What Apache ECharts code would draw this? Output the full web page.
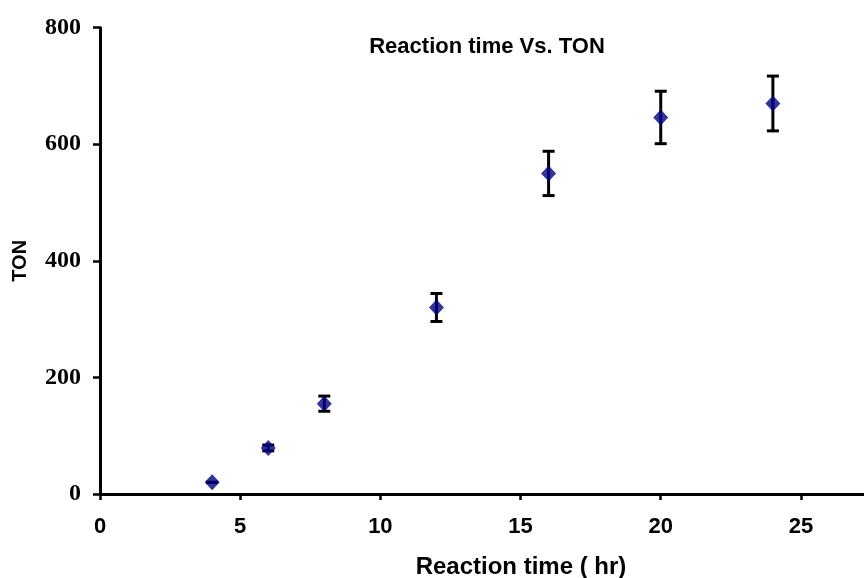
<!DOCTYPE html>
<html>
<head>
<meta charset="utf-8">
<script src="https://cdn.jsdelivr.net/npm/echarts@6/dist/echarts.min.js"></script>
<style>html,body{margin:0;padding:0;background:#fff}#c{width:864px;height:578px}</style>
</head>
<body>
<div id="c"></div>
<script>
const hours = [4, 6, 8, 12, 16, 20, 24];
const ton = [20, 79, 155, 320, 550, 646, 670];
const tonErr = [0, 5, 13, 24, 38, 45, 47];
const yTicks = [0, 200, 400, 600, 800];
const xTicks = [0, 5, 10, 15, 20, 25];

const chart = echarts.init(document.getElementById('c'), null, {renderer: 'canvas'});
const pts = hours.map((h, i) => [h, ton[i]]);
const errData = hours.map((h, i) => [h, ton[i] - tonErr[i], ton[i] + tonErr[i]]);

chart.setOption({
  animation: false,
  backgroundColor: '#fff',
  title: {
    text: 'Reaction time Vs. TON',
    left: 482, top: 31, textAlign: 'center',
    textStyle: {fontFamily: 'Liberation Sans', fontWeight: 'bold', fontSize: 22, color: '#000'}
  },
  grid: {left: 100, right: 0, top: 27.7, bottom: 84, containLabel: false, outerBoundsMode: 'none'},
  xAxis: {
    type: 'value', min: 0, max: 27.25, interval: 5,
    name: 'Reaction time ( hr)', nameLocation: 'middle', nameGap: 61,
    nameTextStyle: {fontFamily: 'Liberation Sans', fontWeight: 'bold', fontSize: 24, color: '#000', padding: [0, 0, 0, 78]},
    axisLine: {show: true, lineStyle: {color: '#000', width: 3}},
    axisTick: {show: true, length: 6, lineStyle: {color: '#000', width: 2.5}},
    axisLabel: {
      margin: 22, fontFamily: 'Liberation Sans', fontWeight: 'bold', fontSize: 22, color: '#000',
      showMaxLabel: false,
      formatter: v => xTicks.includes(v) ? String(v) : ''
    },
    splitLine: {show: false}
  },
  yAxis: {
    type: 'value', min: 0, max: 800, interval: 200,
    name: 'TON', nameLocation: 'middle', nameGap: 70, nameRotate: 90,
    nameTextStyle: {fontFamily: 'Liberation Sans', fontWeight: 'bold', fontSize: 20, color: '#000', padding: [0, 0, 0, 0]},
    axisLine: {show: true, onZero: false, lineStyle: {color: '#000', width: 3}},
    axisTick: {show: true, length: 7, lineStyle: {color: '#000', width: 2.5}},
    axisLabel: {
      margin: 19, fontFamily: 'Liberation Serif', fontWeight: 'bold', fontSize: 24, color: '#000',
      formatter: v => yTicks.includes(v) ? String(v) : ''
    },
    splitLine: {show: false}
  },
  series: [
    {
      type: 'custom',
      data: errData,
      z: 2,
      renderItem: function (params, api) {
        const x = api.coord([api.value(0), 0])[0];
        const lo = api.coord([api.value(0), api.value(1)])[1];
        const hi = api.coord([api.value(0), api.value(2)])[1];
        const hw = 6;
        const style = {stroke: '#000', lineWidth: 3};
        return {
          type: 'group',
          children: [
            {type: 'line', shape: {x1: x, y1: lo, x2: x, y2: hi}, style: style},
            {type: 'line', shape: {x1: x - hw, y1: lo, x2: x + hw, y2: lo}, style: style},
            {type: 'line', shape: {x1: x - hw, y1: hi, x2: x + hw, y2: hi}, style: style}
          ]
        };
      }
    },
    {
      type: 'scatter',
      data: pts,
      z: 3,
      symbol: 'diamond',
      symbolSize: [15, 16],
      itemStyle: {color: '#000080'}
    }
  ]
});
</script>
</body>
</html>
